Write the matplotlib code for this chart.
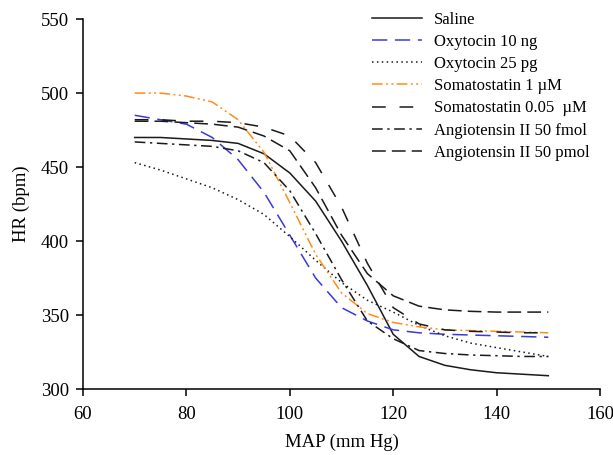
import numpy as np
import matplotlib
matplotlib.use("Agg")
import matplotlib.pyplot as plt

plt.rcParams['font.family'] = ['Liberation Serif', 'DejaVu Serif']

# MAP (mm Hg) sample points
map_x = [70, 75, 80, 85, 90, 95, 100, 105, 110, 115, 120, 125, 130, 135, 140, 145, 150]

saline = [470, 470, 469, 468, 466, 459, 446, 427, 400, 370, 337, 322, 316, 313, 311, 310, 309]
oxy_10ng = [485, 482, 479, 470, 455, 433, 404, 375, 355, 346, 340, 338, 337, 336.5, 336, 335.5, 335]
oxy_25pg = [453, 448, 442, 436, 428, 418, 403, 387, 372, 360, 352, 343, 336, 331, 328, 325, 322]
soma_1uM = [500, 500, 498, 494, 482, 460, 426, 391, 365, 351, 345, 342, 340, 339.5, 339, 338.5, 338]
soma_005uM = [482, 482, 481, 481, 480, 477, 471, 453, 423, 385, 355, 344, 340, 339, 338.5, 338, 338]
ang_fmol = [467, 466, 465, 464, 461, 453, 434, 405, 374, 346, 334, 326, 324, 323, 322.5, 322, 322]
ang_pmol = [481, 481, 480, 479, 477, 471, 461, 436, 404, 378, 363, 356, 353.5, 352.5, 352, 352, 352]

labels = ["Saline", "Oxytocin 10 ng", "Oxytocin 25 pg", "Somatostatin 1 \u00b5M",
          "Somatostatin 0.05  \u00b5M", "Angiotensin II 50 fmol", "Angiotensin II 50 pmol"]

fig = plt.figure(figsize=(6.13, 4.55), dpi=100)
ax = fig.add_axes([0.1354, 0.145, 0.8434, 0.813])

blk = "#1a1a1a"
ax.plot(map_x, saline, color=blk, lw=1.1, label=labels[0])
ax.plot(map_x, oxy_10ng, color="#3a3ad6", lw=1.1, dashes=(10, 5), label=labels[1])
ax.plot(map_x, oxy_25pg, color=blk, lw=1.1, dashes=(1, 2.2), label=labels[2])
ax.plot(map_x, soma_1uM, color="#ff8c1a", lw=1.1, dashes=(7, 2.2, 1.3, 2.2, 1.3, 2.2), label=labels[3])
ax.plot(map_x, soma_005uM, color=blk, lw=1.1, dashes=(9, 9), label=labels[4])
ax.plot(map_x, ang_fmol, color=blk, lw=1.1, dashes=(7, 3, 1.5, 3), label=labels[5])
ax.plot(map_x, ang_pmol, color=blk, lw=1.1, dashes=(9, 4), label=labels[6])

ax.set_xlim(60, 160)
ax.set_ylim(300, 550)
ax.set_xticks(range(60, 161, 20))
ax.set_yticks(range(300, 551, 50))
for s in ["top", "right"]:
    ax.spines[s].set_visible(False)
for s in ["left", "bottom"]:
    ax.spines[s].set_linewidth(1.1)
ax.tick_params(direction="out", length=5, width=1.1, labelsize=13.5, pad=5)
ax.tick_params(axis="x", pad=7)

ax.set_xlabel("MAP (mm Hg)", fontsize=13.5, labelpad=8)
ax.set_ylabel("HR (bpm)", fontsize=13.5, labelpad=8)

ax.legend(loc="upper left", bbox_to_anchor=(0.559, 1.02), frameon=False, fontsize=12,
          borderpad=0, borderaxespad=0, handlelength=3.0, handletextpad=0.7,
          labelspacing=0.37)

fig.savefig("out.png", dpi=100)
